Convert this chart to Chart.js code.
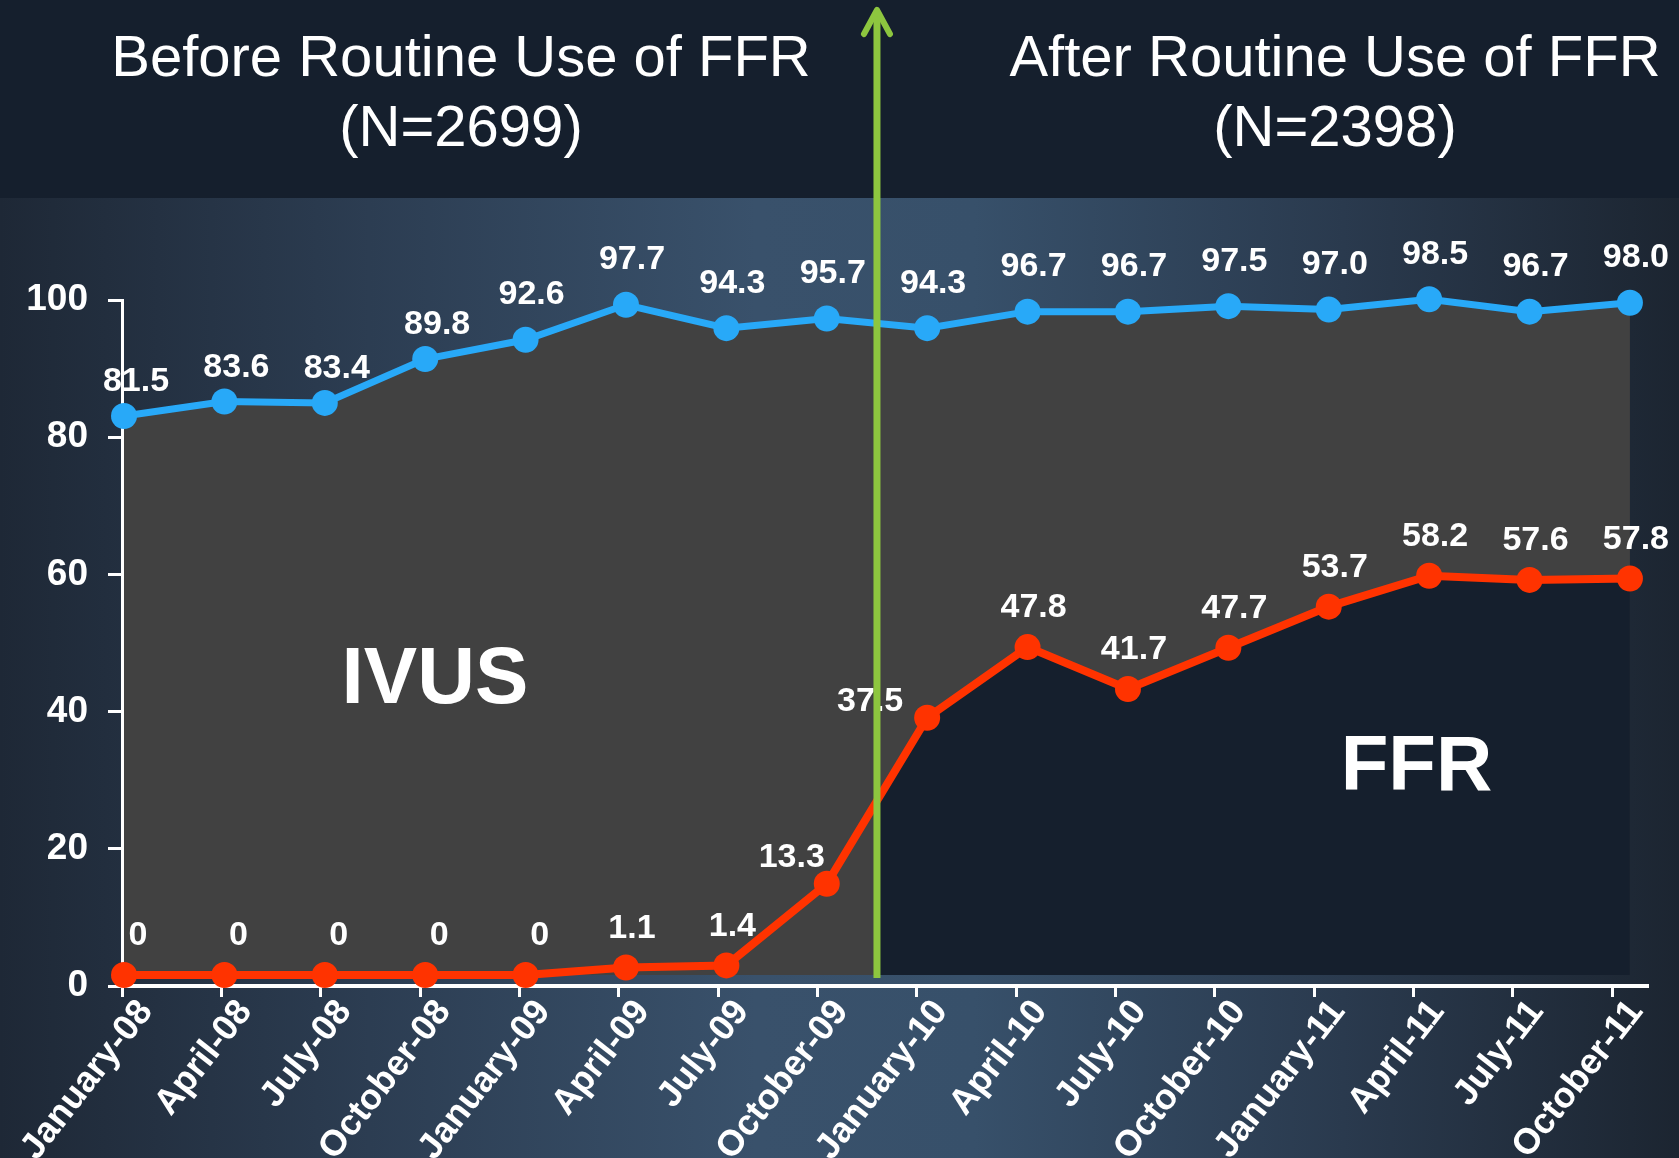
<!DOCTYPE html>
<html>
<head>
<meta charset="utf-8">
<script src="https://cdn.jsdelivr.net/npm/chart.js@4.4.0/dist/chart.umd.min.js"></script>
<style>
html, body { margin: 0; padding: 0; }
body {
  width: 1679px; height: 1158px; position: relative; overflow: hidden;
  font-family: "Liberation Sans", Arial, sans-serif;
  background: linear-gradient(90deg, #1e2836 0%, #2c3d52 22%, #39516b 45%, #37506a 58%, #2a3a4e 80%, #1c2531 100%);
}
#band { position: absolute; left: 0; top: 0; width: 1679px; height: 198px; background: #151f2d; }
.ttl { position: absolute; top: 21px; width: 800px; color: #fff; font-size: 58px; line-height: 70px; text-align: center; z-index: 2; }
#c { position: absolute; left: 0; top: 0; z-index: 1; }
</style>
</head>
<body>
<div id="band"></div>
<div class="ttl" style="left:61px">Before Routine Use of FFR<br>(N=2699)</div>
<div class="ttl" style="left:935px">After Routine Use of FFR<br>(N=2398)</div>
<canvas id="c" width="1679" height="1158"></canvas>

<script>
// quarters on the x axis
var months = ["January-08", "April-08", "July-08", "October-08", "January-09", "April-09",
  "July-09", "October-09", "January-10", "April-10", "July-10", "October-10",
  "January-11", "April-11", "July-11", "October-11"];

// % of cases with FFR / IVUS
var ffrUse = [0, 0, 0, 0, 0, 1.1, 1.4, 13.3, 37.5, 47.8, 41.7, 47.7, 53.7, 58.2, 57.6, 57.8];
var ivusUse = [81.5, 83.6, 83.4, 89.8, 92.6, 97.7, 94.3, 95.7, 94.3, 96.7, 96.7, 97.5, 97.0, 98.5, 96.7, 98.0];

var yTicks = [0, 20, 40, 60, 80, 100];
var dividerAt = 7.5; // between October-09 and January-10

var FONT = '"Liberation Sans", Arial, sans-serif';
var NAVY = '#151f2d';

function fmt(v) { return v === 0 ? '0' : v.toFixed(1); }

// navy under the FFR line, only after routine use started
function ffrFill(ctx) {
  var chart = ctx.chart;
  if (!chart.chartArea || !chart.scales.xd) return NAVY;
  var px = chart.scales.xd.getPixelForValue(dividerAt);
  var p = Math.min(Math.max(px / chart.width, 0), 1);
  var g = chart.ctx.createLinearGradient(0, 0, chart.width, 0);
  g.addColorStop(0, 'rgba(21,31,45,0)');
  g.addColorStop(p, 'rgba(21,31,45,0)');
  g.addColorStop(p, NAVY);
  g.addColorStop(1, NAVY);
  return g;
}

var pointLabels = {
  id: 'pointLabels',
  afterDatasetsDraw: function (chart) {
    var ctx = chart.ctx;
    var x = chart.scales.x, y = chart.scales.y;
    ctx.save();
    ctx.fillStyle = '#fff';
    ctx.textAlign = 'center';
    ctx.textBaseline = 'alphabetic';
    ctx.font = 'bold 80px ' + FONT;
    ctx.fillText('IVUS', x.getPixelForValue(3.15), y.getPixelForValue(41.3));
    ctx.font = 'bold 78px ' + FONT;
    ctx.fillText('FFR', x.getPixelForValue(13.03), y.getPixelForValue(28.6));

    ctx.font = 'bold 34px ' + FONT;
    ctx.textBaseline = 'middle';
    chart.data.datasets.forEach(function (ds, di) {
      var meta = chart.getDatasetMeta(di);
      meta.data.forEach(function (pt, i) {
        var v = ds.data[i].y;
        var dx = 6, dy = -45;
        if (ds.label === 'FFR') {
          dy = -39;
          dx = v === 0 ? 14 : 6;
          if (i === 7) { dx = -35; dy = -26; }
          if (i === 8) { dx = -57; dy = -16; }
        } else if (i < 4) {
          dx = 12; dy = -34;
        }
        ctx.fillText(fmt(v), pt.x + dx, pt.y + dy);
      });
    });
    ctx.restore();
  }
};

var divider = {
  id: 'divider',
  afterDraw: function (chart) {
    var ctx = chart.ctx;
    var px = chart.scales.xd.getPixelForValue(dividerAt);
    var bottom = chart.scales.yd.getPixelForValue(0) + 3;
    ctx.save();
    ctx.strokeStyle = '#8dc63f';
    ctx.lineWidth = 7;
    ctx.beginPath();
    ctx.moveTo(px, bottom);
    ctx.lineTo(px, 12);
    ctx.stroke();
    ctx.lineWidth = 6;
    ctx.lineCap = 'round';
    ctx.lineJoin = 'round';
    ctx.beginPath();
    ctx.moveTo(px - 13, 34);
    ctx.lineTo(px, 10);
    ctx.lineTo(px + 13, 34);
    ctx.stroke();
    ctx.restore();
  }
};

new Chart(document.getElementById('c'), {
  type: 'line',
  data: {
    datasets: [
      {
        label: 'FFR',
        data: ffrUse.map(function (v, i) { return { x: i, y: v }; }),
        xAxisID: 'xd', yAxisID: 'yd',
        borderColor: '#ff3300', borderWidth: 8,
        pointRadius: 13, pointBackgroundColor: '#ff3300', pointBorderWidth: 0,
        backgroundColor: ffrFill, fill: 'origin', clip: false, tension: 0
      },
      {
        label: 'IVUS',
        data: ivusUse.map(function (v, i) { return { x: i, y: v }; }),
        xAxisID: 'xd', yAxisID: 'yd',
        borderColor: '#28a9f8', borderWidth: 7,
        pointRadius: 13, pointBackgroundColor: '#28a9f8', pointBorderWidth: 0,
        backgroundColor: '#414141', fill: 'origin', clip: false, tension: 0
      }
    ]
  },
  options: {
    responsive: false,
    animation: false,
    devicePixelRatio: 1,
    layout: { padding: { top: 300, right: 32, bottom: 0, left: 0 } },
    plugins: {
      legend: { display: false },
      tooltip: { enabled: false },
      filler: { drawTime: 'beforeDatasetsDraw' }
    },
    scales: {
      x: {
        type: 'linear', position: 'bottom', min: 0, max: 15.35,
        afterBuildTicks: function (s) {
          s.ticks = months.map(function (m, i) { return { value: i }; });
        },
        afterFit: function (s) { s.height = 172; s.paddingLeft = 0; s.paddingRight = 0; },
        ticks: {
          autoSkip: false, maxRotation: 52, minRotation: 52, padding: -5, labelOffset: 24,
          color: '#fff', font: { family: FONT, size: 36, weight: 'bold' },
          callback: function (v) { return months[v] || ''; }
        },
        grid: { drawOnChartArea: false, color: '#fff', lineWidth: 3, tickLength: 11 },
        border: { color: '#fff', width: 4 }
      },
      y: {
        type: 'linear', position: 'left', min: 0, max: 100,
        afterBuildTicks: function (s) {
          s.ticks = yTicks.map(function (v) { return { value: v }; });
        },
        afterFit: function (s) { s.width = 122; },
        ticks: {
          padding: 20, color: '#fff',
          font: { family: FONT, size: 37, weight: 'bold' }
        },
        grid: { drawOnChartArea: false, color: '#fff', lineWidth: 3, tickLength: 14 },
        border: { color: '#fff', width: 3 }
      },
      xd: { type: 'linear', axis: 'x', position: 'bottom', display: false, min: -0.02, max: 15.17 },
      yd: { type: 'linear', axis: 'y', position: 'left', display: false, min: -1.6, max: 98.4 }
    }
  },
  plugins: [pointLabels, divider]
});
</script>
</body>
</html>
